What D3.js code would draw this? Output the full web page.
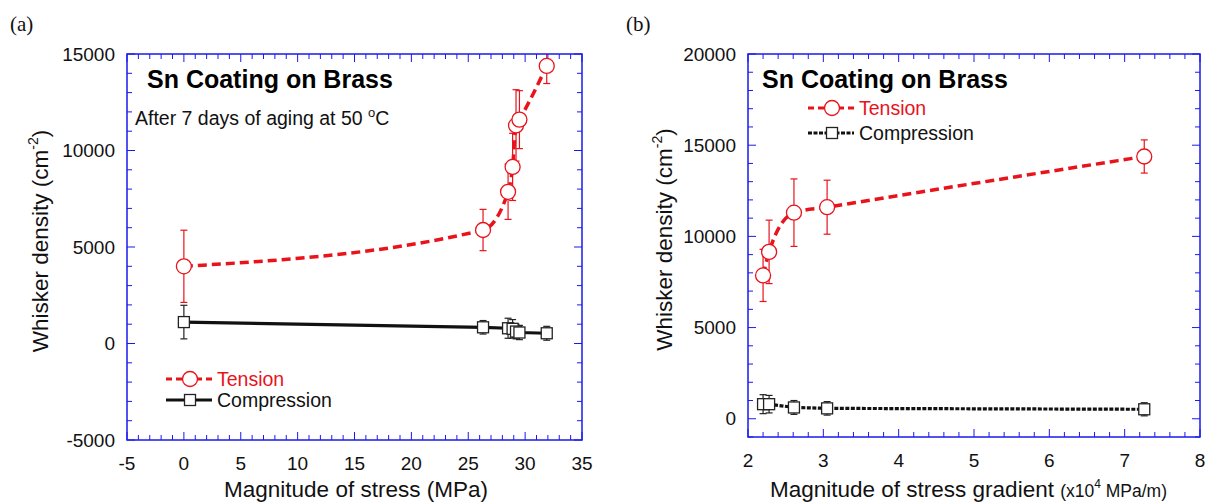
<!DOCTYPE html>
<html>
<head>
<meta charset="utf-8">
<script src="https://cdn.jsdelivr.net/npm/d3@7"></script>
<style>
  body { margin: 0; background: #fff; }
  svg { display: block; font-family: Arial, "Liberation Sans", sans-serif; }
</style>
</head>
<body>
<div id="chart"></div>
<script>
// panel (a): whisker density vs magnitude of stress
const stressA = [0, 26.3, 28.5, 28.9, 29.2, 29.5, 31.9];
const tensionA = [4000, 5880, 7860, 9150, 11300, 11600, 14380];
const tensionErrA = [1870, 1070, 1430, 1740, 1850, 1500, 910];
const compressionA = [1110, 840, 790, 760, 620, 570, 530];
const compressionErrA = [870, 350, 520, 480, 380, 370, 360];

// panel (b): whisker density vs magnitude of stress gradient (x10^4 MPa/m)
const gradientB = [2.20, 2.28, 2.61, 3.05, 7.26];
const tensionB = [7860, 9150, 11300, 11600, 14380];
const tensionErrB = [1430, 1740, 1850, 1480, 910];
const compressionB = [800, 800, 620, 570, 520];
const compressionErrB = [520, 480, 380, 370, 360];

const xTicksA = [-5, 0, 5, 10, 15, 20, 25, 30, 35];
const yTicksA = [-5000, 0, 5000, 10000, 15000];
const xTicksB = [2, 3, 4, 5, 6, 7, 8];
const yTicksB = [0, 5000, 10000, 15000, 20000];

const RED = '#e8131b';
const BLUE = '#1a1aee';

const svg = d3.select('#chart').append('svg').attr('width', 1207).attr('height', 502);
let clipN = 0;

function drawPanel(o) {
  const x = d3.scaleLinear().domain(o.xDomain).range([o.left, o.right]);
  const y = d3.scaleLinear().domain(o.yDomain).range([o.bottom, o.top]);
  const g = svg.append('g');
  const clipId = 'clip' + (clipN++);
  svg.append('clipPath').attr('id', clipId).append('rect')
    .attr('x', o.left).attr('y', o.top).attr('width', o.right - o.left).attr('height', o.bottom - o.top);

  // minor + major ticks, inward on all four sides
  const xMinor = d3.range(o.xDomain[0], o.xDomain[1] + 1e-9, o.xMinor);
  const yMinor = d3.range(Math.ceil(o.yDomain[0] / 1000) * 1000, o.yDomain[1] + 1e-9, 1000);
  const isMajor = (v, step) => Math.abs(v / step - Math.round(v / step)) < 1e-6;
  xMinor.forEach(v => {
    const len = isMajor(v, o.xMajor) ? 8 : 5;
    g.append('line').attr('x1', x(v)).attr('x2', x(v)).attr('y1', o.bottom).attr('y2', o.bottom - len)
      .attr('stroke', BLUE).attr('stroke-width', 1);
    g.append('line').attr('x1', x(v)).attr('x2', x(v)).attr('y1', o.top).attr('y2', o.top + len)
      .attr('stroke', BLUE).attr('stroke-width', 1);
  });
  yMinor.forEach(v => {
    const len = isMajor(v, 5000) ? 8 : 5;
    g.append('line').attr('y1', y(v)).attr('y2', y(v)).attr('x1', o.left).attr('x2', o.left + len)
      .attr('stroke', BLUE).attr('stroke-width', 1);
    g.append('line').attr('y1', y(v)).attr('y2', y(v)).attr('x1', o.right).attr('x2', o.right - len)
      .attr('stroke', BLUE).attr('stroke-width', 1);
  });

  // tick labels
  g.selectAll('.xt').data(o.xTicks).join('text')
    .attr('x', d => x(d)).attr('y', o.bottom + 30).attr('text-anchor', 'middle')
    .attr('font-size', '19px').attr('fill', '#111').text(d => d);
  g.selectAll('.yt').data(o.yTicks).join('text')
    .attr('x', o.left - 12).attr('y', d => y(d)).attr('dy', '0.35em').attr('text-anchor', 'end')
    .attr('font-size', '19px').attr('fill', '#111').text(d => d);

  // y axis title
  const yl = g.append('text').attr('transform', `translate(${o.yLabelX},${(o.top + o.bottom) / 2 - 6}) rotate(-90)`)
    .attr('text-anchor', 'middle').attr('font-size', '22.5px').attr('fill', '#111');
  yl.append('tspan').text('Whisker density (cm');
  yl.append('tspan').attr('font-size', '14px').attr('dy', '-10').text('-2');
  yl.append('tspan').attr('dy', '10').text(')');

  const line = d3.line().x(d => x(d[0])).y(d => y(d[1]));
  const tPts = o.xs.map((v, i) => [v, o.tension[i]]);
  const cPts = o.xs.map((v, i) => [v, o.compression[i]]);
  const plot = g.append('g').attr('clip-path', `url(#${clipId})`);

  // compression line + error bars + squares
  plot.append('path').datum(cPts).attr('d', line)
    .attr('fill', 'none').attr('stroke', '#111').attr('stroke-width', 3.2)
    .attr('stroke-dasharray', o.compDash);
  drawErr(plot, x, y, o.xs, o.compression, o.compressionErr, '#222');
  plot.selectAll('.sq').data(cPts).join('rect')
    .attr('x', d => x(d[0]) - 5.5).attr('y', d => y(d[1]) - 5.5).attr('width', 11).attr('height', 11)
    .attr('fill', '#fff').attr('stroke', '#222').attr('stroke-width', 1.3);

  // tension curve + error bars + circles
  plot.append('path').datum(tPts).attr('d', line.curve(d3.curveMonotoneX))
    .attr('fill', 'none').attr('stroke', RED).attr('stroke-width', 3.5).attr('stroke-dasharray', '9,5');
  drawErr(plot, x, y, o.xs, o.tension, o.tensionErr, RED);
  plot.selectAll('.ci').data(tPts).join('circle')
    .attr('cx', d => x(d[0])).attr('cy', d => y(d[1])).attr('r', 7.5)
    .attr('fill', '#fff').attr('stroke', RED).attr('stroke-width', 1.3);

  g.append('rect').attr('x', o.left).attr('y', o.top)
    .attr('width', o.right - o.left).attr('height', o.bottom - o.top)
    .attr('fill', 'none').attr('stroke', BLUE).attr('stroke-width', 1.5);

  // title
  g.append('text').attr('x', o.titleX).attr('y', 88).attr('font-size', '25px').attr('font-weight', 'bold')
    .attr('fill', '#000').text('Sn Coating on Brass');

  // legend
  const lg = o.legend;
  const items = [
    { label: 'Tension', color: RED, dash: '6,4', y: lg.y1, shape: 'circle' },
    { label: 'Compression', color: '#111', dash: o.compDash, y: lg.y2, shape: 'square' },
  ];
  items.forEach(it => {
    g.append('line').attr('x1', lg.x).attr('x2', lg.x + 46).attr('y1', it.y).attr('y2', it.y)
      .attr('stroke', it.color).attr('stroke-width', 3).attr('stroke-dasharray', it.dash);
    if (it.shape === 'circle') {
      g.append('circle').attr('cx', lg.x + 24).attr('cy', it.y).attr('r', 7.5)
        .attr('fill', '#fff').attr('stroke', RED).attr('stroke-width', 1.3);
    } else {
      g.append('rect').attr('x', lg.x + 24 - 5.5).attr('y', it.y - 5.5).attr('width', 11).attr('height', 11)
        .attr('fill', '#fff').attr('stroke', '#222').attr('stroke-width', 1.3);
    }
    g.append('text').attr('x', lg.x + 51).attr('y', it.y).attr('dy', '0.35em')
      .attr('font-size', '19.5px').attr('fill', it.color === RED ? RED : '#111').text(it.label);
  });
  return g;
}

function drawErr(g, x, y, xs, vals, errs, color) {
  xs.forEach((v, i) => {
    const cx = x(v), y1 = y(vals[i] + errs[i]), y2 = y(vals[i] - errs[i]);
    g.append('line').attr('x1', cx).attr('x2', cx).attr('y1', y1).attr('y2', y2)
      .attr('stroke', color).attr('stroke-width', 1.2);
    [y1, y2].forEach(yy => g.append('line').attr('x1', cx - 3.5).attr('x2', cx + 3.5).attr('y1', yy).attr('y2', yy)
      .attr('stroke', color).attr('stroke-width', 1.2));
  });
}

const gA = drawPanel({
  left: 127, right: 582, top: 54, bottom: 440,
  xDomain: [-5, 35], yDomain: [-5000, 15000], xMinor: 1, xMajor: 5,
  xTicks: xTicksA, yTicks: yTicksA, yLabelX: 48,
  xs: stressA, tension: tensionA, tensionErr: tensionErrA,
  compression: compressionA, compressionErr: compressionErrA,
  compDash: null, titleX: 147, legend: { x: 166, y1: 379, y2: 400 },
});
gA.append('text').attr('x', 356).attr('y', 497).attr('text-anchor', 'middle')
  .attr('font-size', '22.5px').attr('fill', '#111').text('Magnitude of stress (MPa)');
const note = gA.append('text').attr('x', 135).attr('y', 125).attr('font-size', '19.5px').attr('fill', '#111');
note.append('tspan').text('After 7 days of aging at 50 ');
note.append('tspan').attr('font-size', '13px').attr('dy', '-8').text('o');
note.append('tspan').attr('dy', '8').text('C');

const gB = drawPanel({
  left: 748, right: 1200, top: 54, bottom: 437,
  xDomain: [2, 8], yDomain: [-1000, 20000], xMinor: 0.2, xMajor: 1,
  xTicks: xTicksB, yTicks: yTicksB, yLabelX: 672,
  xs: gradientB, tension: tensionB, tensionErr: tensionErrB,
  compression: compressionB, compressionErr: compressionErrB,
  compDash: '4,1.5', titleX: 762, legend: { x: 808, y1: 108, y2: 133 },
});
const xl = gB.append('text').attr('x', 770).attr('y', 497).attr('font-size', '22.5px').attr('fill', '#111');
xl.append('tspan').text('Magnitude of stress gradient ');
xl.append('tspan').attr('font-size', '17.5px').text('(x10');
xl.append('tspan').attr('font-size', '12px').attr('dy', '-9').text('4');
xl.append('tspan').attr('font-size', '17.5px').attr('dy', '9').text(' MPa/m)');

svg.append('text').attr('x', 10).attr('y', 31).attr('font-family', '"Liberation Serif", "Times New Roman", serif')
  .attr('font-size', '21px').attr('fill', '#111').text('(a)');
svg.append('text').attr('x', 626).attr('y', 31).attr('font-family', '"Liberation Serif", "Times New Roman", serif')
  .attr('font-size', '21px').attr('fill', '#111').text('(b)');
</script>
</body>
</html>
